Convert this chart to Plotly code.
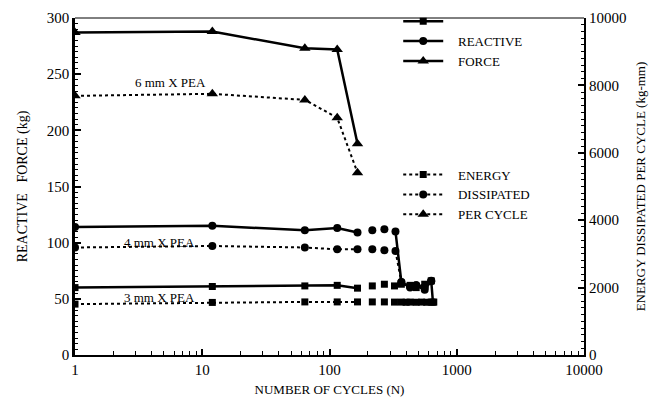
import math
import plotly.graph_objects as go

# ---------------- data ----------------
X_TICKS = [1, 10, 100, 1000, 10000]
X_TICK_TEXT = ["1", "10", "100", "1000", "10000"]
Y_TICKS = [0, 50, 100, 150, 200, 250, 300]
Y2_TICKS = [0, 2000, 4000, 6000, 8000, 10000]
Y2_TICK_TEXT = ["0", "2000", "4000", "6000", "8000", "10000"]

# 6 mm PEA
F6_X = [1, 12, 64, 115, 166]
F6_Y = [287, 288, 273, 272, 188]
E6_X = [1, 12, 64, 115, 166]
E6_Y = [7690, 7750, 7570, 7040, 5410]

# 4 mm PEA (None = break in the line)
F4_X = [1, 12, 64, 115, 166, None, 217, None, 270, None, 330, 367, 430, 480, 560, 630]
F4_Y = [114, 115, 111, 113, 109, None, 111, None, 112, None, 110, 65, 60, 62, 58, 66]
E4_X = [1, 12, 64, 115, 166, None, 217, None, 270, None, 330, 367, 430, 480, 560, 630]
E4_Y = [3190, 3235, 3190, 3135, 3135, None, 3135, None, 3105, None, 3085, 2160, 2040, 2070, 2010, 2190]

# 3 mm PEA
F3_X = [1, 12, 64, 115, 166, None, 217, None, 270, None, 324, 367, 430, 480, 560, 630, 650]
F3_Y = [60, 61, 61.5, 62, 59.5, None, 61.5, None, 63, None, 61.5, 63, 62, 60, 63, 66, 47]
E3_X = [1, 12, 64, 115, 166, None, 217, None, 270, None, 324, 367, 400, 430, 480, 530, 580, 630, 660]
E3_Y = [1510, 1560, 1575, 1575, 1575, None, 1575, None, 1575, None, 1570, 1570, 1565, 1570, 1565, 1570, 1565, 1570, 1570]

LABELS = ["6 mm X PEA", "4 mm X PEA", "3 mm X PEA"]
LABEL_X = [5.6, 4.6, 4.6]
LABEL_Y = [243, 100, 51.5]

FONT = "Liberation Serif"
BLACK = "black"

fig = go.Figure()

def add(x, y, symbol, size, dash, width, name, legend, yaxis="y"):
    fig.add_trace(go.Scatter(
        x=x, y=y, mode="lines+markers", name=name, yaxis=yaxis,
        legend=legend, connectgaps=False,
        line=dict(color=BLACK, width=width, dash=dash),
        marker=dict(symbol=symbol, size=size, color=BLACK),
    ))

add(F3_X, F3_Y, "square", 7, "solid", 2.5, " ", "legend")
add(F4_X, F4_Y, "circle", 8, "solid", 2.5, "   REACTIVE", "legend")
add(F6_X, F6_Y, "triangle-up", 10, "solid", 2.5, "   FORCE", "legend")
add(E3_X, E3_Y, "square", 7, "dot", 2, "   ENERGY", "legend2", "y2")
add(E4_X, E4_Y, "circle", 8, "dot", 2, "   DISSIPATED", "legend2", "y2")
add(E6_X, E6_Y, "triangle-up", 10, "dot", 2, "   PER CYCLE", "legend2", "y2")

for t, lx, ly in zip(LABELS, LABEL_X, LABEL_Y):
    fig.add_annotation(x=math.log10(lx), y=ly, xref="x", yref="y", text=t, showarrow=False,
                       xanchor="center", yanchor="middle",
                       font=dict(family=FONT, size=13, color=BLACK))

tickfont = dict(family=FONT, size=15, color=BLACK)

fig.update_layout(
    width=664, height=402,
    margin=dict(l=75, r=80, t=18, b=47, autoexpand=False),
    paper_bgcolor="white", plot_bgcolor="white",
    font=dict(family=FONT, color=BLACK),
    xaxis=dict(
        type="log", range=[0, 4], tickvals=X_TICKS, ticktext=X_TICK_TEXT,
        showgrid=False, zeroline=False, showline=True, linewidth=2, linecolor=BLACK,
        ticks="inside", ticklen=6, tickwidth=2, tickcolor=BLACK, tickfont=tickfont,
        minor=dict(ticks="inside", ticklen=4, tickwidth=1, tickcolor=BLACK, dtick="D1", showgrid=False),
        title=dict(text="NUMBER OF CYCLES (N)", font=dict(family=FONT, size=13, color=BLACK), standoff=8),
    ),
    yaxis=dict(
        range=[0, 300], tickvals=Y_TICKS,
        showgrid=False, zeroline=False, showline=True, linewidth=2.5, linecolor=BLACK,
        ticks="inside", ticklen=6, tickwidth=2, tickcolor=BLACK, tickfont=tickfont,
        minor=dict(ticks="inside", ticklen=3, tickwidth=1, tickcolor=BLACK, dtick=5, showgrid=False),
        title=dict(text="REACTIVE   FORCE (kg)", font=dict(family=FONT, size=14, color=BLACK), standoff=16),
    ),
    yaxis2=dict(
        overlaying="y", side="right", range=[0, 10000], tickvals=Y2_TICKS, ticktext=Y2_TICK_TEXT,
        showgrid=False, zeroline=False, showline=True, linewidth=2, linecolor=BLACK,
        ticks="inside", ticklen=6, tickwidth=2, tickcolor=BLACK, tickfont=tickfont,
        minor=dict(ticks="inside", ticklen=3, tickwidth=1, tickcolor=BLACK, dtick=200, showgrid=False),
        title=dict(text="ENERGY DISSIPATED PER CYCLE (kg-mm)",
                   font=dict(family=FONT, size=13, color=BLACK), standoff=10),
    ),
    legend=dict(x=0.635, y=1.035, xanchor="left", yanchor="top", bgcolor="rgba(0,0,0,0)",
                font=dict(family=FONT, size=13, color=BLACK),
                traceorder="normal", itemwidth=40, tracegroupgap=0),
    legend2=dict(x=0.635, y=0.58, xanchor="left", yanchor="top", bgcolor="rgba(0,0,0,0)",
                 font=dict(family=FONT, size=13, color=BLACK),
                 traceorder="normal", itemwidth=40, tracegroupgap=0),
    showlegend=True,
)

# thin top border
fig.add_shape(type="line", xref="paper", yref="paper", x0=0, x1=1, y0=1, y1=1,
              line=dict(color=BLACK, width=1))

fig.write_html("out.html")
